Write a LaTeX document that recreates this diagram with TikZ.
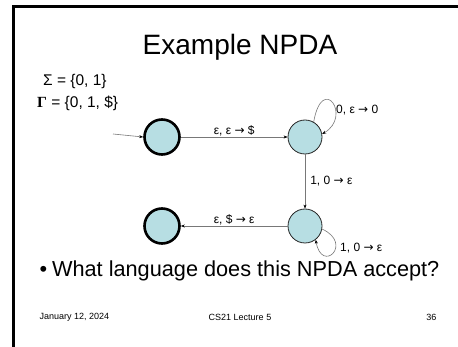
\documentclass[tikz,border=0pt]{standalone}
\usepackage{fontspec}
\setmainfont{Liberation Sans}
\newfontfamily\symfont{DejaVu Sans}
\newfontfamily\serifbold[BoldFont={Liberation Serif Bold}]{Liberation Serif}
\usetikzlibrary{arrows.meta}
\definecolor{statefill}{RGB}{183,222,227}
\definecolor{edgegray}{RGB}{120,120,120}
\newcommand{\arr}{{\symfont→}}
\begin{document}
\begin{tikzpicture}[x=1pt,y=-1pt,
  state/.style={circle,draw=black!85,line width=0.8pt,fill=statefill,minimum size=34pt,inner sep=0pt},
  endstate/.style={state,draw=black,line width=2.6pt,minimum size=35pt},
  trans/.style={draw=edgegray,line width=0.6pt,-{Stealth[length=4pt,width=3pt,black]}},
  elabel/.style={font=\fontsize{12}{14}\selectfont,inner sep=1pt},
  setlabel/.style={font=\fontsize{15.5}{18}\selectfont,anchor=west,inner sep=0pt},
  footer/.style={font=\fontsize{9}{10}\selectfont}]
\useasboundingbox (0,0) rectangle (458,347);
\fill[white] (0,0) rectangle (458,347);
% slide frame
\draw[line width=3pt,line cap=rect] (13.5,347) -- (13.5,6.5) -- (458,6.5);
% title and alphabets
\node (title) at (240,47) {\fontsize{28}{32}\selectfont Example NPDA};
\node[setlabel] (sigma) at (43,81) {Σ = \{0, 1\}};
\node[setlabel] (gamma) at (37,103) {{\serifbold\bfseries Γ} = \{0, 1, \$\}};
% states
\node[endstate] (q1) at (162,137) {};
\node[state] (q2) at (305,137) {};
\node[state] (q3) at (305,226) {};
\node[endstate] (q4) at (162,226) {};
% transitions (y axis points down, so upward directions use negative angles)
\coordinate (start) at (113,134);
\draw[trans] (start) -- (q1.west);
\draw[trans] (q1) -- node[elabel,above] {ε, ε \arr{} \$} (q2);
\draw[trans] (q2.60) .. controls +(-80:50) and +(-30:35) .. (q2.10);
\node[elabel,anchor=west] (loop2) at (335,110) {0, ε \arr{} 0};
\draw[trans] (q2) -- node[elabel,right,xshift=4pt] {1, 0 \arr{} ε} (q3);
\draw[trans] (q3.-10) .. controls +(25:35) and +(80:35) .. (q3.-52);
\node[elabel,anchor=west] (loop3) at (339,248) {1, 0 \arr{} ε};
\draw[trans] (q3) -- node[elabel,above] {ε, \$ \arr{} ε} (q4);
% question
\node[anchor=west] (question) at (36,271) {\fontsize{21.7}{24}\selectfont •\hspace{5pt}What language does this NPDA accept?};
% footer
\node[footer,anchor=west] (date) at (36,317) {January 12, 2024};
\node[footer] (course) at (240,317) {CS21 Lecture 5};
\node[footer,anchor=east] (page) at (440,317) {36};
\end{tikzpicture}
\end{document}
